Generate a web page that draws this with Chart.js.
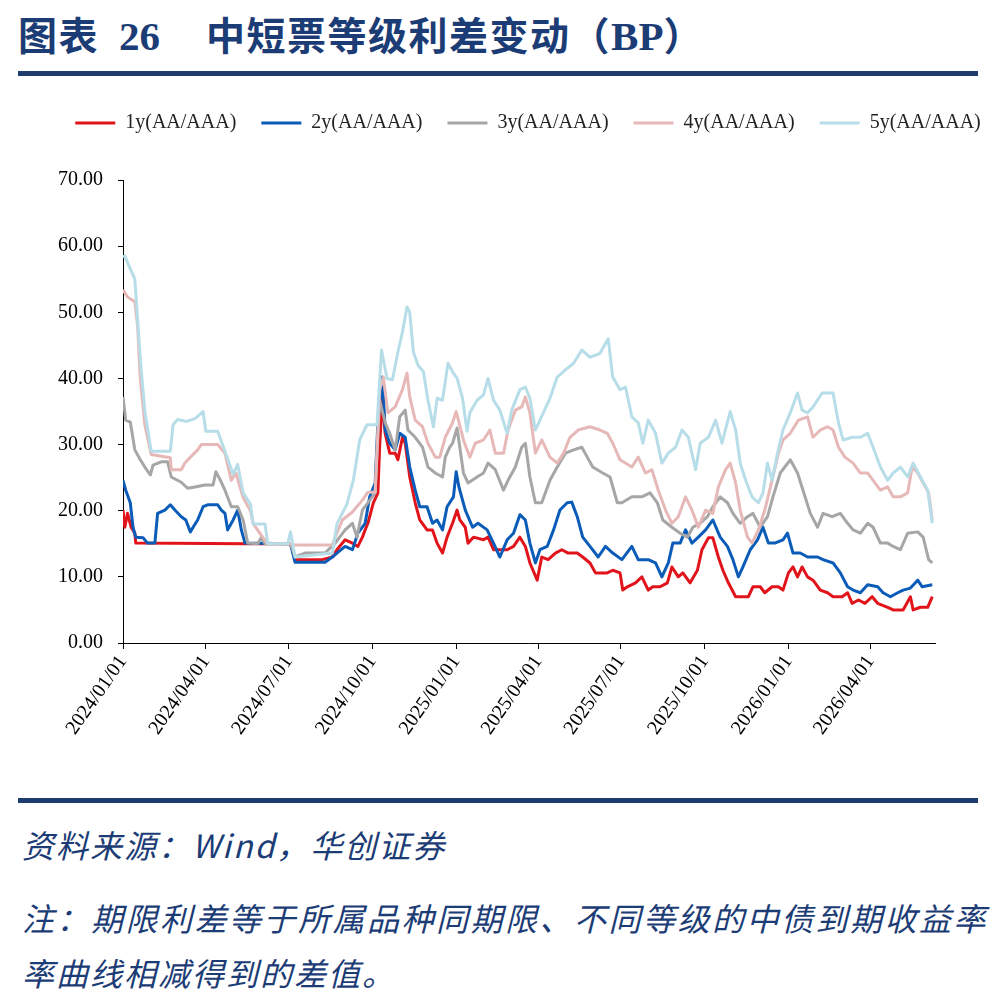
<!DOCTYPE html>
<html lang="zh-CN">
<head>
  <meta charset="UTF-8">
  <title>中短票等级利差变动（BP）</title>
  <script src="https://cdn.jsdelivr.net/npm/chart.js"></script>
  <style>
    html, body {
      margin: 0;
      padding: 0;
      background: #fff;
    }
    body {
      width: 1002px;
      height: 995px;
      position: relative;
      overflow: hidden;
    }
    .title {
      position: absolute;
      left: 18px;
      top: 8px;
      font-family: "Noto Sans CJK SC";
      font-weight: bold;
      font-size: 39px;
      line-height: 50px;
      color: #1c3c76;
      white-space: nowrap;
      letter-spacing: 1.5px;
    }
    .title .lat {
      font-family: "Liberation Serif";
      letter-spacing: 0;
      font-size: 41px;
    }
    .rule {
      position: absolute;
      left: 18px;
      width: 960px;
      height: 5px;
      background: #1f3c6e;
    }
    .note {
      position: absolute;
      left: 22px;
      font-family: "Noto Sans CJK SC";
      font-style: italic;
      font-size: 32px;
      line-height: 40px;
      color: #1c3c76;
      white-space: nowrap;
      letter-spacing: 2px;
    }
    #wrap {
      position: absolute;
      left: 0;
      top: 80px;
      width: 1002px;
      height: 715px;
    }
  </style>
</head>
<body>
  <div class="title">图表<span class="lat" style="margin-left:20px">26</span><span style="margin-left:46px">中短票等级利差变动（</span><span class="lat">BP</span>）</div>
  <div class="rule" style="top:71px"></div>

  <div id="wrap"><canvas id="spreadChart"></canvas></div>

  <div class="rule" style="top:798px"></div>
  <div class="note" style="top:824px">资料来源：Wind，华创证券</div>
  <div class="note" style="top:897px; letter-spacing:2.5px">注：期限利差等于所属品种同期限、不同等级的中债到期收益率</div>
  <div class="note" style="top:952px">率曲线相减得到的差值。</div>

  <script>
    // x = 距 2024/01/01 的天数, y = 利差(BP)
    const tickLabels = ['2024/01/01','2024/04/01','2024/07/01','2024/10/01','2025/01/01',
                        '2025/04/01','2025/07/01','2025/10/01','2026/01/01','2026/04/01'];
    const seriesNames = ['1y(AA/AAA)','2y(AA/AAA)','3y(AA/AAA)','4y(AA/AAA)','5y(AA/AAA)'];

    const spread1y = [[0,20.1],[2,17.5],[5,19.6],[9,17.5],[13,16.6],[14,15.1],[134,15],[184,15],[190,12.6],[219,12.6],
      [230,13],[235,14.1],[244,15.6],[252,15.1],[258,14.6],[263,16],[266,17.1],[269,18.1],[275,21.2],[280,22.7],
      [282,30],[285,37],[288,31.7],[293,28.7],[299,28.7],[302,27.7],[307,31.1],[310,30.2],[315,25.1],[321,21.2],
      [326,18.6],[334,17.1],[340,17.1],[345,15.1],[351,13.6],[356,16],[362,18.1],[367,20.1],[370,18.6],[376,17.5],
      [379,15.1],[385,16],[396,15.6],[401,16],[407,14.1],[422,14.1],[429,14.6],[436,16],[442,14.6],[447,12.1],
      [455,9.5],[460,13],[467,12.6],[475,13.6],[482,14.1],[489,13.6],[499,13.6],[505,13],[513,12.1],[519,10.6],
      [532,10.6],[538,11],[546,10.6],[549,8],[554,8.5],[563,9.1],[570,10],[577,8],[582,8.5],[590,8.5],
      [598,9.1],[603,11.5],[610,10],[615,10.6],[623,9.1],[631,11],[636,14.1],[643,15.9],[648,15.9],[654,13],
      [659,11],[665,9.1],[673,7],[687,7],[692,8.5],[700,8.5],[705,7.6],[713,8.5],[720,8.5],[725,8],
      [731,10.6],[736,11.5],[741,10],[746,11.5],[752,10],[758,9.5],[766,8],[774,7.6],[780,7],[790,7],
      [796,7.6],[801,6],[808,6.5],[815,6],[823,7],[829,6],[840,5.4],[846,5],[857,5],[865,7],
      [868,5],[876,5.4],[884,5.4],[889,7]];

    const spread2y = [[0,24.6],[3,23.1],[8,21.2],[11,17.5],[14,16],[22,15.9],[27,15.1],[35,15.1],[38,19.6],[46,20.1],
      [52,20.9],[57,20.1],[64,19.1],[69,18.6],[74,16.8],[77,17.5],[82,18.6],[88,20.6],[93,20.9],[104,20.9],
      [108,20.1],[112,19.6],[115,17.1],[121,18.6],[126,20.1],[130,17.1],[134,15.1],[184,15],[189,12.2],[222,12.2],
      [230,13],[235,13.6],[244,14.6],[252,14.1],[258,16.6],[266,18.1],[271,22.1],[277,24.2],[280,33.3],[285,40.2],
      [288,32.2],[293,30.2],[299,29.2],[304,31.7],[310,31.1],[315,26.6],[321,23.1],[326,20.6],[334,20.6],[340,18.1],
      [345,18.6],[351,17.1],[356,20.6],[363,22.1],[366,25.9],[369,23.6],[376,20.1],[384,17.5],[390,18.1],[400,17.1],
      [407,15.1],[414,13],[422,15.6],[429,16.6],[436,19.4],[442,18.6],[447,15.1],[453,12.1],[458,14.1],[466,14.6],
      [473,17.1],[480,20.1],[488,21.2],[493,21.3],[499,19.1],[505,16],[513,14.6],[522,13],[530,14.6],[538,13.6],
      [548,12.6],[559,14.6],[566,12.6],[577,12.6],[585,12.1],[592,10],[599,12.1],[604,15.1],[612,15.1],[618,17.1],
      [625,15.1],[632,16],[640,17.1],[648,18.6],[656,16],[664,14.6],[670,12.6],[676,10],[681,11.5],[689,14.1],
      [697,15.6],[703,17.5],[709,15.1],[716,15.1],[725,15.6],[730,16.6],[736,13.6],[744,13.6],[752,13],[763,13],
      [769,12.6],[780,12.1],[788,10.6],[796,8.5],[802,8],[810,7.6],[818,8.8],[829,8.5],[835,7.6],[843,7],
      [851,7.6],[857,8],[865,8.3],[873,9.5],[878,8.5],[889,8.8]];

    const spread3y = [[0,37.2],[3,33.7],[8,33.4],[13,29.2],[19,27.7],[24,26.6],[30,25.4],[33,26.9],[42,27.4],[49,27.4],
      [53,25.1],[64,24.3],[71,23.4],[79,23.6],[90,23.9],[99,23.9],[102,25.9],[107,24.6],[112,23.1],[119,20.6],
      [126,20.6],[132,18.6],[137,15.1],[148,15],[152,16],[156,15],[184,15],[189,13],[200,13.6],[222,13.6],
      [233,15.1],[244,17.1],[252,18.1],[257,16],[263,20.1],[269,21.2],[277,22.7],[282,36.7],[288,33.3],[293,31.7],
      [299,29.2],[304,34.2],[310,35.2],[313,32.2],[321,31.1],[329,29.6],[335,26.6],[343,25.7],[351,25.1],[354,28.1],
      [359,29.6],[362,30.2],[367,32.5],[374,25.7],[379,24.2],[389,25.1],[396,25.7],[401,27.2],[409,26.2],[418,23.1],
      [423,24.6],[431,26.6],[438,29.6],[442,30.2],[447,25.1],[453,21.2],[460,21.2],[469,24.6],[477,26.6],[486,28.7],
      [495,29.2],[504,29.6],[510,28.1],[516,26.6],[527,25.7],[535,25.1],[543,21.2],[548,21.2],[559,22.1],[570,22.1],
      [579,22.7],[587,21.2],[593,18.6],[603,17.5],[612,16.6],[620,16],[626,17.5],[634,18.1],[642,19.1],[648,20.6],
      [656,22.1],[664,21.2],[670,19.6],[678,18.1],[686,19.1],[692,19.6],[700,17.5],[708,19.1],[714,22.1],[722,25.7],
      [733,27.7],[741,25.7],[747,23.1],[755,19.6],[763,17.5],[769,19.6],[779,19.1],[788,19.6],[796,18.1],[802,17.1],
      [810,16.6],[818,18.1],[824,17.5],[832,15.1],[840,15.1],[846,14.6],[854,14.1],[862,16.6],[873,16.8],[879,16],
      [885,12.6],[889,12.1]];

    const spread4y = [[0,53.4],[5,52.3],[13,51.6],[16,48],[19,40],[24,33],[31,28.5],[52,28],[53,26.2],[64,26.2],
      [68,27.2],[74,28.1],[82,29.2],[86,30],[104,30],[112,28.7],[119,24.6],[124,25.7],[132,22],[140,20],
      [143,18],[156,15.5],[159,15],[184,15],[189,14.8],[230,14.8],[233,16],[241,18.6],[252,19.8],[263,21.6],
      [269,22.8],[277,22.8],[282,38.3],[286,40.2],[291,34.8],[299,35.7],[307,38.3],[312,40.8],[315,37.2],[321,33.7],
      [329,32.7],[335,30.2],[343,28.1],[348,28.1],[354,31.1],[362,33.3],[366,35],[374,30.7],[381,28.1],[387,30.2],
      [396,30.7],[403,32.2],[409,28.7],[418,28.7],[423,32.2],[431,35.2],[438,35.7],[442,37.2],[447,34.8],[453,28.7],
      [460,30.7],[469,28.1],[477,27.2],[484,28.7],[491,31.1],[500,32.2],[513,32.7],[524,32.2],[532,31.7],[538,30.2],
      [546,27.7],[559,26.6],[566,28.1],[574,25.7],[581,26.2],[588,23.1],[596,20.1],[603,18.1],[610,19.1],[618,22.1],
      [625,20.1],[632,17.5],[640,20.1],[648,19.6],[654,23.6],[662,26.2],[667,27.2],[673,24.2],[678,20.1],[686,16],
      [691,15.1],[698,17.1],[705,20.1],[713,24.6],[720,28.7],[725,30.7],[733,31.7],[742,33.7],[752,34.2],[758,31.1],
      [766,32.2],[774,32.7],[780,32.2],[786,29.6],[793,28.1],[802,27.2],[810,25.7],[818,25.7],[824,24.6],[832,23.1],
      [840,23.6],[846,22.1],[854,22.1],[862,22.7],[867,26.6],[873,25.7],[879,24.2],[885,22.7],[889,18.6]];

    const spread5y = [[0,58.4],[2,58.5],[5,57.5],[13,55],[19,43],[24,35],[31,29],[52,29],[55,33],[60,33.8],
      [70,33.5],[80,34],[88,35],[91,32],[104,32],[112,29],[121,25.5],[126,27],[132,22.7],[140,21],
      [143,18],[156,18],[159,15],[181,15],[184,16.8],[189,13],[230,13.6],[235,18],[246,21],[253,24.6],
      [257,28],[260,30.7],[268,33],[279,33],[284,44.3],[290,40],[296,39.8],[302,44],[307,47],[312,50.8],
      [315,50],[319,44],[324,42],[330,41],[335,36.7],[341,32.7],[345,37],[351,36.7],[357,42.3],[362,41],
      [367,40],[373,37],[378,32],[381,34.8],[389,36.7],[396,37.5],[401,40],[407,36.7],[414,35.2],[422,31.7],
      [427,35.2],[436,38.3],[442,38.7],[447,37],[453,32.2],[458,33.7],[469,37],[477,40.2],[486,41.3],[495,42.3],
      [504,44.3],[513,43.2],[524,43.8],[533,46],[538,40.2],[546,38.3],[552,38.7],[559,34.2],[566,33.3],[571,30.2],
      [577,33.7],[585,31.7],[592,27.2],[599,28.7],[607,29.6],[614,32.2],[621,31.1],[629,26.2],[634,30.2],[643,31.1],
      [651,33.7],[658,30.2],[667,35],[673,32.2],[678,27.2],[684,24.6],[691,22.1],[698,21.2],[703,22.7],[708,27.2],
      [713,24.6],[719,28.7],[725,32.2],[733,34.8],[741,37.8],[746,35.2],[752,34.8],[758,35.7],[768,37.8],[780,37.8],
      [786,33.3],[791,30.7],[801,31.1],[810,31.1],[818,31.7],[824,29.6],[832,26.6],[840,24.6],[846,25.7],[854,26.6],
      [862,25.1],[868,27.2],[876,25.1],[884,23.1],[889,18.1]];

    const seriesData = [spread1y, spread2y, spread3y, spread4y, spread5y];
    const colors = ['#e2141b', '#0b5cb8', '#a6a6a6', '#e6b8b7', '#b7dee8'];

    function dayOf(s) {
      const [y, m, d] = s.split('/').map(Number);
      return (Date.UTC(y, m - 1, d) - Date.UTC(2024, 0, 1)) / 864e5;
    }

    Chart.defaults.font.family = '"Liberation Serif", serif';
    Chart.defaults.font.size = 20;
    Chart.defaults.color = '#000';

    // 图例: 固定高度并整体右移
    const legendTweak = {
      id: 'legendTweak',
      beforeInit(chart) {
        const fit = chart.legend.fit;
        chart.legend.fit = function () {
          fit.bind(chart.legend)();
          this.height = 92;
        };
      },
      afterLayout(chart) {
        chart.legend.left += 27;
        chart.legend.right += 27;
      }
    };

    const datasets = seriesNames.map((name, i) => ({
      label: name,
      data: seriesData[i].map(p => ({ x: p[0], y: p[1] })),
      borderColor: colors[i],
      backgroundColor: colors[i],
      borderWidth: 3,
      pointRadius: 0,
      tension: 0,
      borderJoinStyle: 'round',
      order: 5 - i
    }));

    new Chart(document.getElementById('spreadChart'), {
      type: 'line',
      data: { datasets },
      plugins: [legendTweak],
      options: {
        responsive: true,
        maintainAspectRatio: false,
        animation: false,
        layout: { padding: { left: 0, right: 0, top: 8, bottom: 42 } },
        plugins: {
          tooltip: { enabled: false },
          legend: {
            position: 'top',
            reverse: true,
            labels: {
              boxWidth: 40,
              boxHeight: 3,
              padding: 25,
              color: '#222',
              font: { size: 20 },
              generateLabels: chart => Chart.defaults.plugins.legend.labels.generateLabels(chart)
                .map(l => ({ ...l, lineWidth: 0 }))
            }
          }
        },
        scales: {
          x: {
            type: 'linear',
            min: 0,
            max: 892,
            afterBuildTicks: s => { s.ticks = tickLabels.map(l => ({ value: dayOf(l) })); },
            afterFit: s => { s.height = 110; },
            grid: { drawOnChartArea: false, drawTicks: true, tickLength: 6, color: '#000' },
            border: { color: '#000', width: 1 },
            ticks: {
              autoSkip: false,
              minRotation: 55,
              maxRotation: 55,
              padding: 2,
              callback: (v, i) => tickLabels[i]
            }
          },
          y: {
            min: 0,
            max: 70,
            afterFit: s => { s.width = 123; },
            grid: { drawOnChartArea: false, drawTicks: true, tickLength: 5, color: '#000' },
            border: { color: '#000', width: 1 },
            ticks: {
              stepSize: 10,
              padding: 15,
              callback: v => v.toFixed(2)
            }
          },
          yRight: {
            type: 'linear',
            position: 'right',
            min: 0,
            max: 70,
            afterFit: s => { s.width = 67; },
            grid: { display: false },
            border: { display: false },
            ticks: { display: false }
          }
        }
      }
    });
  </script>
</body>
</html>
